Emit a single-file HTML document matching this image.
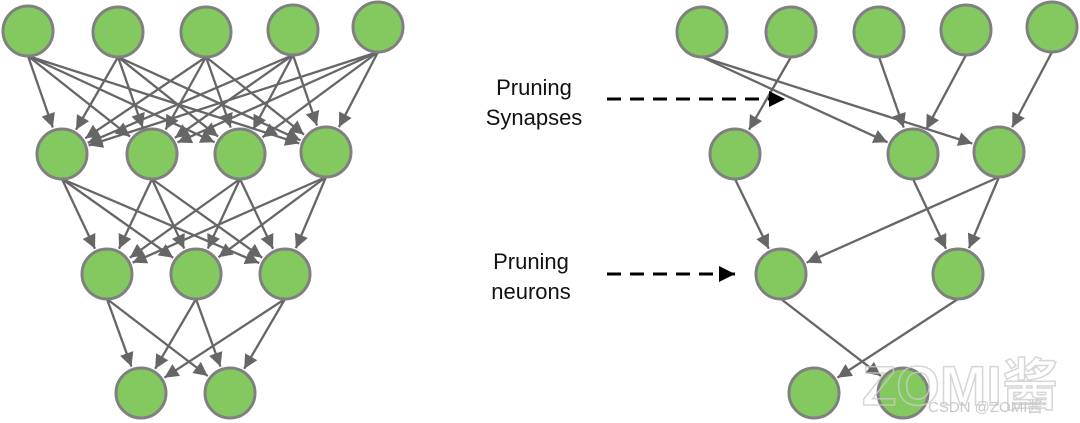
<!DOCTYPE html>
<html><head><meta charset="utf-8"><style>
html,body{margin:0;padding:0;background:#fff;width:1080px;height:423px;overflow:hidden}
svg{display:block}
text{font-family:"Liberation Sans","Noto Sans CJK SC",sans-serif}
</style></head><body>
<svg id="s" width="1080" height="423" viewBox="0 0 1080 423" xmlns="http://www.w3.org/2000/svg">
<defs>
<marker id="a" viewBox="0 0 10 10" refX="10" refY="5" markerWidth="17" markerHeight="14" markerUnits="userSpaceOnUse" orient="auto"><path d="M0,0 L10,5 L0,10 z" fill="#666"/></marker>
<marker id="b" viewBox="0 0 10 10" refX="10" refY="5" markerWidth="18" markerHeight="16" markerUnits="userSpaceOnUse" orient="auto"><path d="M0,0 L10,5 L0,10 z" fill="#000"/></marker>
</defs>
<g id="e"></g>
<g id="n"></g>
<line x1="607" y1="99" x2="785" y2="99" stroke="#000" stroke-width="3" stroke-dasharray="14,9" marker-end="url(#b)"/>
<line x1="607" y1="274" x2="735" y2="274" stroke="#000" stroke-width="3" stroke-dasharray="14,9" marker-end="url(#b)"/>
<text x="534" y="95" font-size="22" text-anchor="middle" fill="#111">Pruning</text>
<text x="534" y="125" font-size="22" text-anchor="middle" fill="#111">Synapses</text>
<text x="531" y="269" font-size="22" text-anchor="middle" fill="#111">Pruning</text>
<text x="531" y="299" font-size="22" text-anchor="middle" fill="#111">neurons</text>
<text x="862" y="405" font-size="56" fill="none" stroke="#ccc" stroke-width="1.5" font-weight="bold" opacity="0.8">ZOMI酱</text>
<text x="928" y="412" font-size="15" fill="#c8c8c8">CSDN @ZOMI酱</text>
</svg>
<script>
var L=[[[28,31],[118,32],[206,32],[293,30],[378,27]],[[62,154],[152,154],[240,154],[326,152]],[[107,274],[196,274],[285,274]],[[141,393],[230,393]]];
var R=[[[702,32],[791,32],[879,32],[966,30],[1052,27]],[[735,154],[913,154],[999,152]],[[781,274],[958,274]],[[814,393],[903,393]]];
var r=26,E=document.getElementById('e'),N=document.getElementById('n'),ns="http://www.w3.org/2000/svg";
function edge(p,q){
var sx=p[0],sy=p[1]+r-1,dx=q[0]-sx,dy=q[1]-sy,d=Math.hypot(dx,dy);
var l=document.createElementNS(ns,'line');l.setAttribute('x1',sx);l.setAttribute('y1',sy);
l.setAttribute('x2',q[0]-dx/d*(r+2));l.setAttribute('y2',q[1]-dy/d*(r+2));l.setAttribute('stroke','#666');l.setAttribute('stroke-width','2.3');l.setAttribute('marker-end','url(#a)');E.appendChild(l);}
function node(p){var c=document.createElementNS(ns,'circle');c.setAttribute('cx',p[0]);c.setAttribute('cy',p[1]);c.setAttribute('r',r-1);c.setAttribute('fill','#84c95f');c.setAttribute('stroke','#808080');c.setAttribute('stroke-width','3');N.appendChild(c);}
for(var i=0;i<3;i++)L[i].forEach(function(p){L[i+1].forEach(function(q){edge(p,q);});});
var re=[[0,0,1,1],[0,0,1,2],[0,1,1,0],[0,2,1,1],[0,3,1,1],[0,4,1,2],[1,0,2,0],[1,1,2,1],[1,2,2,0],[1,2,2,1],[2,0,3,1],[2,1,3,0]];
re.forEach(function(t){edge(R[t[0]][t[1]],R[t[2]][t[3]]);});
L.concat(R).forEach(function(row){row.forEach(node);});
</script>
</body></html>
